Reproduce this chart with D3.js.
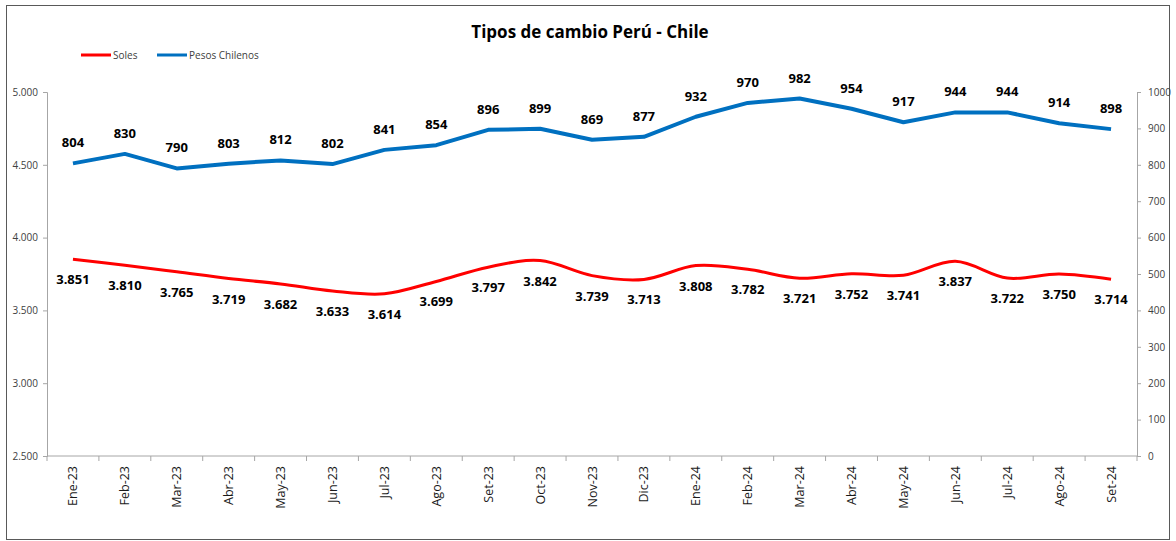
<!DOCTYPE html>
<html lang="es">
<head>
<meta charset="UTF-8">
<title>Tipos de cambio Perú - Chile</title>
<script src="https://cdn.jsdelivr.net/npm/d3@7"></script>
<style>
body { margin: 0; background: #fff; }
svg text { font-family: "Open Sans", "Noto Sans", sans-serif; }
.axis path, .axis line { stroke: #a6a6a6; }
.axis text { fill: #404040; font-size: 10px; }
.lbl { font-weight: bold; font-size: 13px; fill: #000; }
</style>
</head>
<body>
<div id="canvas"></div>
<script>
// data
var months = ["Ene-23","Feb-23","Mar-23","Abr-23","May-23","Jun-23","Jul-23","Ago-23","Set-23","Oct-23","Nov-23","Dic-23",
              "Ene-24","Feb-24","Mar-24","Abr-24","May-24","Jun-24","Jul-24","Ago-24","Set-24"];
var soles = [3.851,3.810,3.765,3.719,3.682,3.633,3.614,3.699,3.797,3.842,3.739,3.713,
             3.808,3.782,3.721,3.752,3.741,3.837,3.722,3.750,3.714];
var pesos = [804,830,790,803,812,802,841,854,896,899,869,877,
             932,970,982,954,917,944,944,914,898];
var leftTicks = [2.5,3.0,3.5,4.0,4.5,5.0];
var rightTicks = [0,100,200,300,400,500,600,700,800,900,1000];

var W = 1176, H = 541;
var margin = {top: 92, right: 39, bottom: 85, left: 47};

var svg = d3.select("#canvas").append("svg")
    .attr("width", W).attr("height", H);

// frame
svg.append("rect")
    .attr("x", 6.5).attr("y", 5.5)
    .attr("width", 1163).attr("height", 534)
    .attr("fill", "#fff").attr("stroke", "#595959").attr("stroke-width", 1);

var x = d3.scaleBand().domain(months).range([margin.left, W - margin.right]);
var yL = d3.scaleLinear().domain([2.5, 5]).range([H - margin.bottom, margin.top]);
var yR = d3.scaleLinear().domain([0, 1000]).range([H - margin.bottom, margin.top]);

// axes
svg.append("g").attr("class", "axis")
    .attr("transform", "translate(" + margin.left + ",0)")
    .call(d3.axisLeft(yL).tickValues(leftTicks).tickFormat(d3.format(".3f")).tickSize(4).tickPadding(5))
    .selectAll("text").attr("text-anchor", "end");

svg.append("g").attr("class", "axis")
    .attr("transform", "translate(" + (W - margin.right) + ",0)")
    .call(d3.axisRight(yR).tickValues(rightTicks).tickFormat(d3.format("d")).tickSize(4).tickPadding(7));

var xAxis = svg.append("g").attr("class", "axis")
    .attr("transform", "translate(0," + (H - margin.bottom) + ")");
xAxis.append("line")
    .attr("x1", margin.left).attr("x2", W - margin.right)
    .attr("stroke", "#a6a6a6");
var bounds = months.map(function(m) { return x(m); }).concat([W - margin.right]);
xAxis.selectAll(".tk").data(bounds).enter().append("line")
    .attr("x1", function(d) { return d; }).attr("x2", function(d) { return d; })
    .attr("y1", 0).attr("y2", 5).attr("stroke", "#a6a6a6");
xAxis.selectAll(".xl").data(months).enter().append("text")
    .attr("transform", function(d) {
      return "translate(" + (x(d) + x.bandwidth() / 2 + 4.5) + ",10) rotate(-90)";
    })
    .attr("text-anchor", "end")
    .style("font-size", "12.5px").style("fill", "#1a1a1a")
    .text(function(d) { return d; });

// lines
var cx = function(i) { return x(months[i]) + x.bandwidth() / 2; };

svg.append("path").datum(pesos)
    .attr("fill", "none").attr("stroke", "#0070c0").attr("stroke-width", 4)
    .attr("stroke-linejoin", "round")
    .attr("d", d3.line().x(function(d, i) { return cx(i); }).y(function(d) { return yR(d); }));

svg.append("path").datum(soles)
    .attr("fill", "none").attr("stroke", "#ff0000").attr("stroke-width", 3)
    .attr("d", d3.line().curve(d3.curveCatmullRom.alpha(0))
      .x(function(d, i) { return cx(i); }).y(function(d) { return yL(d); }));

// data labels
svg.selectAll(".lp").data(pesos).enter().append("text")
    .attr("class", "lbl").attr("text-anchor", "middle")
    .attr("x", function(d, i) { return cx(i); })
    .attr("y", function(d) { return yR(d) - 16; })
    .text(function(d) { return d; });

svg.selectAll(".ls").data(soles).enter().append("text")
    .attr("class", "lbl").attr("text-anchor", "middle")
    .attr("x", function(d, i) { return cx(i); })
    .attr("y", function(d) { return yL(d) + 25; })
    .text(function(d) { return d3.format(".3f")(d); });

// title
svg.append("text")
    .attr("x", 590).attr("y", 38)
    .attr("text-anchor", "middle")
    .style("font-size", "17px").style("font-weight", "bold")
    .text("Tipos de cambio Perú - Chile");

// legend
var legend = [{name: "Soles", color: "#ff0000", x: 81}, {name: "Pesos Chilenos", color: "#0070c0", x: 157}];
var lg = svg.selectAll(".leg").data(legend).enter().append("g");
lg.append("line")
    .attr("x1", function(d) { return d.x; }).attr("x2", function(d) { return d.x + 30; })
    .attr("y1", 55).attr("y2", 55)
    .attr("stroke", function(d) { return d.color; }).attr("stroke-width", 3);
lg.append("text")
    .attr("x", function(d) { return d.x + 32; }).attr("y", 59)
    .style("font-size", "10px").style("fill", "#404040")
    .text(function(d) { return d.name; });
</script>
</body>
</html>
